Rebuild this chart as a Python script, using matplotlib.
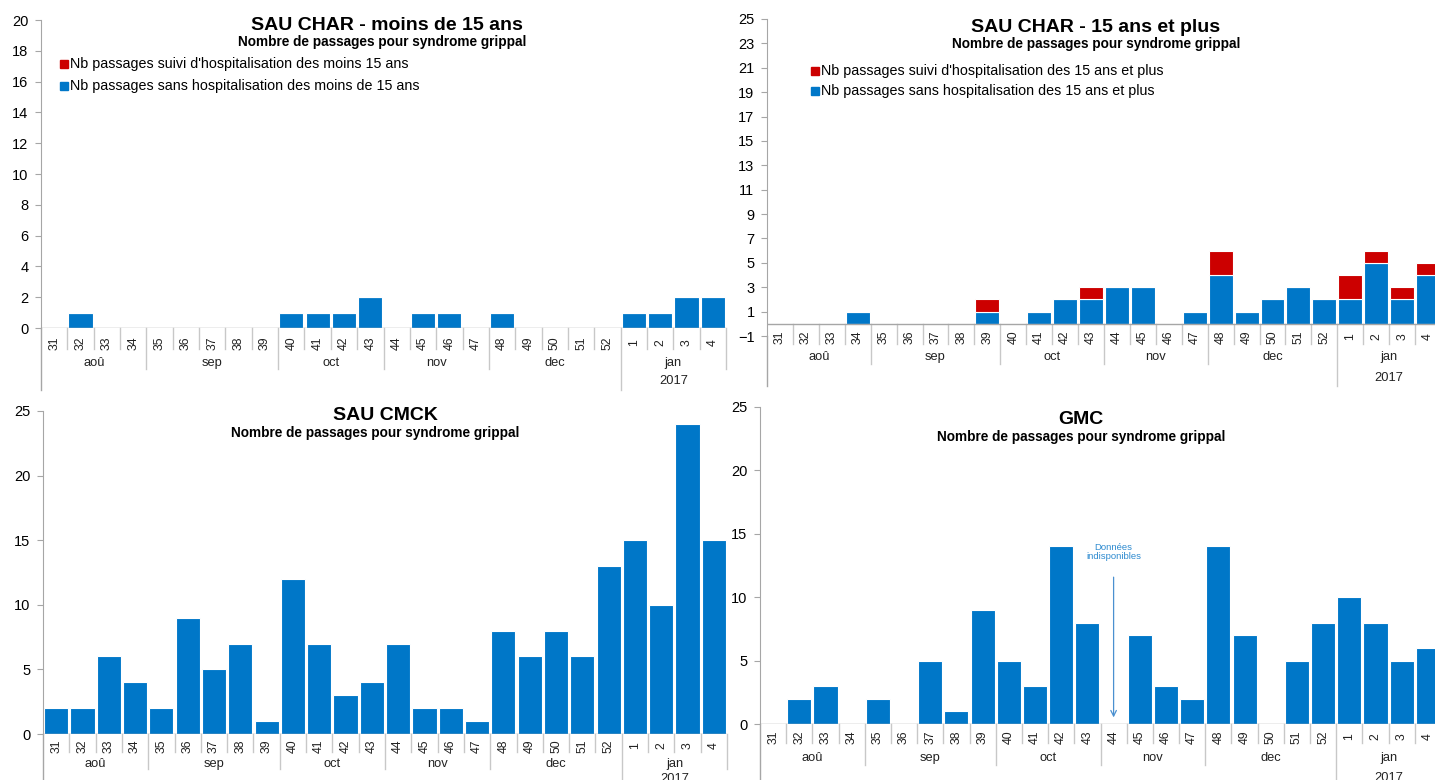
import numpy as np
import matplotlib
matplotlib.use('Agg')
import matplotlib.pyplot as plt
from matplotlib.patches import Rectangle

plt.rcParams['font.family'] = ['Liberation Sans', 'DejaVu Sans']

# ---------------- data ----------------
weeks = ['31', '32', '33', '34', '35', '36', '37', '38', '39', '40', '41', '42', '43',
         '44', '45', '46', '47', '48', '49', '50', '51', '52', '1', '2', '3', '4']
months = ['aoû', 'sep', 'oct', 'nov', 'dec', 'jan']
month_sizes = [4, 5, 4, 4, 5, 4]
year_label = '2017'

char_m15_sans = [0, 1, 0, 0, 0, 0, 0, 0, 0, 1, 1, 1, 2, 0, 1, 1, 0, 1, 0, 0, 0, 0, 1, 1, 2, 2]
char_m15_hosp = [0, 0, 0, 0, 0, 0, 0, 0, 0, 0, 0, 0, 0, 0, 0, 0, 0, 0, 0, 0, 0, 0, 0, 0, 0, 0]
char_p15_sans = [0, 0, 0, 1, 0, 0, 0, 0, 1, 0, 1, 2, 2, 3, 3, 0, 1, 4, 1, 2, 3, 2, 2, 5, 2, 4]
char_p15_hosp = [0, 0, 0, 0, 0, 0, 0, 0, 1, 0, 0, 0, 1, 0, 0, 0, 0, 2, 0, 0, 0, 0, 2, 1, 1, 1]
cmck = [2, 2, 6, 4, 2, 9, 5, 7, 1, 12, 7, 3, 4, 7, 2, 2, 1, 8, 6, 8, 6, 13, 15, 10, 24, 15]
gmc = [0, 2, 3, 0, 2, 0, 5, 1, 9, 5, 3, 14, 8, np.nan, 7, 3, 2, 14, 7, 0, 5, 8, 10, 8, 5, 6]
missing_week = '44'

BLUE = '#0077C8'
RED = '#CC0000'
AXC = '#A6A6A6'
SEPC = '#C8C8C8'

W, H = 1435, 780
fig = plt.figure(figsize=(W / 100, H / 100), dpi=100)


def fx(x):
    return x / W


def fy(y):
    return 1 - y / H


def make_ax(left, top, right, bottom):
    return fig.add_axes([fx(left), fy(bottom), (right - left) / W, (bottom - top) / H])


def style_ax(ax, ylim, yticks, bottom_px, top_px, offs):
    ax.set_xlim(-0.5, len(weeks) - 0.5)
    ax.set_ylim(*ylim)
    ax.set_yticks(yticks)
    ax.set_xticks([])
    for s in ['top', 'right', 'bottom']:
        ax.spines[s].set_visible(False)
    ax.spines['left'].set_color(AXC)
    ax.tick_params(axis='y', colors=AXC, labelcolor='black', labelsize=10.5,
                   length=4, direction='out', pad=5)
    ax.axhline(0, color=AXC, lw=1, zorder=3)
    upp = (ylim[1] - ylim[0]) / (bottom_px - top_px)

    def yo(px):
        return -px * upp
    wl, ws, ml, ms, yl, ys = offs
    # y axis extension
    ax.plot([-0.5, -0.5], [ylim[0], yo(ys)], color=AXC, lw=1, clip_on=False)
    bounds = np.cumsum([0] + month_sizes)
    for i in range(1, len(weeks) + 1):
        x = i - 0.5
        if i == bounds[-2]:
            L = ys
        elif i in bounds:
            L = ms
        else:
            L = ws
        ax.plot([x, x], [0, yo(L)], color=SEPC, lw=1, clip_on=False)
    for i, w in enumerate(weeks):
        ax.text(i, yo(wl), w, rotation=90, ha='center', va='center', fontsize=8.8,
                color='#222222', clip_on=False)
    for k, m in enumerate(months):
        c = (bounds[k] + bounds[k + 1] - 1) / 2
        ax.text(c, yo(ml), m, ha='center', va='center', fontsize=9.3,
                color='#222222', clip_on=False)
    c = (bounds[-2] + bounds[-1] - 1) / 2
    ax.text(c, yo(yl), year_label, ha='center', va='center', fontsize=9.3,
            color='#222222', clip_on=False)


def legend(x, y1, y2, t1, t2):
    for yy, col, t in [(y1, RED, t1), (y2, BLUE, t2)]:
        fig.patches.append(Rectangle((fx(x - 4), fy(yy + 4)), 8 / W, 8 / H,
                                     transform=fig.transFigure, color=col))
        fig.text(fx(x + 6), fy(yy), t, ha='left', va='center', fontsize=10.3)


def titles(x, y1, y2, t1, t2, xs=None):
    fig.text(fx(x), fy(y1), t1, ha='center', va='center', fontsize=14, fontweight='bold')
    fig.text(fx(xs if xs else x), fy(y2), t2, ha='center', va='center', fontsize=9.8,
             fontweight='bold')


sub = 'Nombre de passages pour syndrome grippal'
xs = np.arange(len(weeks))
bw = 0.92

# ---- top left ----
ax1 = make_ax(41, 20, 726, 328)
ax1.bar(xs, char_m15_sans, width=bw, color=BLUE, edgecolor='white', lw=0.8, zorder=2)
ax1.bar(xs, char_m15_hosp, width=bw, bottom=char_m15_sans, color=RED, edgecolor='white',
        lw=0.8, zorder=2)
style_ax(ax1, (0, 20), np.arange(0, 21, 2), 328, 20, (15, 21, 35, 41, 53, 62))
titles(387, 25, 42, 'SAU CHAR - moins de 15 ans', sub, 382)
legend(64, 64, 86, "Nb passages suivi d'hospitalisation des moins 15 ans",
       'Nb passages sans hospitalisation des moins de 15 ans')

# ---- top right ----
ax2 = make_ax(767, 19, 1441, 336)
ax2.bar(xs, char_p15_sans, width=bw, color=BLUE, edgecolor='white', lw=0.8, zorder=2)
ax2.bar(xs, char_p15_hosp, width=bw, bottom=char_p15_sans, color=RED, edgecolor='white',
        lw=0.8, zorder=2)
style_ax(ax2, (-1, 25), np.arange(-1, 26, 2), 336, 19, (13, 20, 33, 40, 54, 62))
titles(1096, 27, 44, 'SAU CHAR - 15 ans et plus', sub)
legend(815, 71, 91, "Nb passages suivi d'hospitalisation des 15 ans et plus",
       'Nb passages sans hospitalisation des 15 ans et plus')

# ---- bottom left ----
ax3 = make_ax(43, 411, 727, 734)
ax3.bar(xs, cmck, width=bw, color=BLUE, edgecolor='white', lw=0.8, zorder=2)
style_ax(ax3, (0, 25), np.arange(0, 26, 5), 734, 411, (12, 18, 30, 35, 45, 52))
titles(385, 415, 433, 'SAU CMCK', sub, 375)

# ---- bottom right ----
ax4 = make_ax(760, 407, 1441, 724)
ax4.bar(xs, np.nan_to_num(np.array(gmc, dtype=float)), width=bw, color=BLUE,
        edgecolor='white', lw=0.8, zorder=2)
style_ax(ax4, (0, 25), np.arange(0, 26, 5), 724, 407, (13, 19, 34, 41, 54, 62))
titles(1081, 420, 437, 'GMC', sub)
mi = weeks.index(missing_week)
ax4.annotate('', xy=(mi, 0.3), xytext=(mi, 11.8),
             arrowprops=dict(arrowstyle='->', color='#4A90D0', lw=0.9))
ax4.text(mi, 13.6, 'Données\nindisponibles', ha='center', va='center', fontsize=6.8,
         color='#2E8BD0', linespacing=1.0)

fig.savefig('out.png', dpi=100)
